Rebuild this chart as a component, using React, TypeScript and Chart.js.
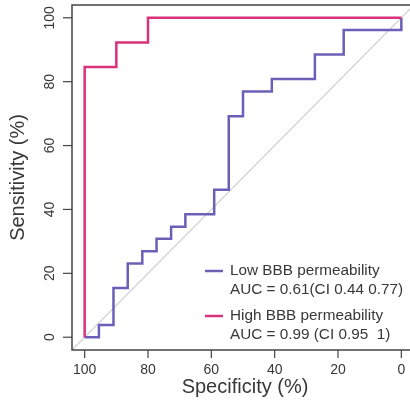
import React, { useEffect, useRef } from 'react';
import { Chart, registerables } from 'chart.js';
Chart.register(...registerables);

// Low BBB permeability ROC (specificity %, sensitivity %)
const lowSpec = [100, 95.5, 90.9, 86.4, 81.8, 77.3, 72.7, 68.2, 59.1, 54.5, 50, 40.9, 27.3, 18.2, 0];
const lowSens = [0, 3.8, 15.4, 23.1, 26.9, 30.8, 34.6, 38.5, 46.2, 69.2, 76.9, 80.8, 88.5, 96.2, 100];
// High BBB permeability ROC
const highSpec = [100, 100, 90, 80, 0];
const highSens = [0, 84.6, 92.3, 100, 100];
// chance diagonal (extends across plot region)
const diagSpec = [110, -10];
const diagSens = [-10, 110];

const xTicks = [100, 80, 60, 40, 20, 0];
const yTicks = [0, 20, 40, 60, 80, 100];
const seriesNames = ['Low BBB permeability', 'High BBB permeability'];
const aucTexts = ['AUC = 0.61(CI 0.44 0.77)', 'AUC = 0.99 (CI 0.95  1)'];
const seriesColors = ['#6a60b8', '#d9317a'];
const xTitle = 'Specificity (%)';
const yTitle = 'Sensitivity (%)';

const FONT = "'Liberation Sans', Arial, Helvetica, sans-serif";

const toPts = (xs: number[], ys: number[]) => xs.map((x, i) => ({ x, y: ys[i] }));

export default function App() {
  const ref = useRef<HTMLCanvasElement | null>(null);
  useEffect(() => {
    document.body.style.margin = '0';
    const canvas = ref.current!;
    const axesPlugin = {
      id: 'rAxes',
      afterDraw(chart: any) {
        const ctx = chart.ctx as CanvasRenderingContext2D;
        const { left, right, top, bottom } = chart.chartArea;
        const xs = chart.scales.x;
        const ys = chart.scales.y;
        ctx.save();
        ctx.strokeStyle = '#444';
        ctx.lineWidth = 1.5;
        ctx.strokeRect(left, top, right - left, bottom - top);
        ctx.fillStyle = '#383838';
        ctx.lineWidth = 1.2;
        // x ticks
        ctx.font = `14px ${FONT}`;
        ctx.textAlign = 'center';
        ctx.textBaseline = 'middle';
        xTicks.forEach((v) => {
          const px = xs.getPixelForValue(v);
          ctx.beginPath();
          ctx.moveTo(px, bottom);
          ctx.lineTo(px, bottom + 8);
          ctx.stroke();
          ctx.fillText(String(v), px, bottom + 20);
        });
        // y ticks
        yTicks.forEach((v) => {
          const py = ys.getPixelForValue(v);
          ctx.beginPath();
          ctx.moveTo(left, py);
          ctx.lineTo(left - 9, py);
          ctx.stroke();
          ctx.save();
          ctx.translate(50, py);
          ctx.rotate(-Math.PI / 2);
          ctx.fillText(String(v), 0, 0);
          ctx.restore();
        });
        // titles
        ctx.font = `20px ${FONT}`;
        ctx.fillText(xTitle, (xs.getPixelForValue(100) + xs.getPixelForValue(0)) / 2 + 2, 387);
        ctx.save();
        ctx.translate(18, (top + bottom) / 2);
        ctx.rotate(-Math.PI / 2);
        ctx.fillText(yTitle, 0, 0);
        ctx.restore();
        // legend
        ctx.font = `15.3px ${FONT}`;
        ctx.textAlign = 'left';
        const rows = [271, 316];
        seriesNames.forEach((name, i) => {
          const y0 = rows[i];
          ctx.strokeStyle = seriesColors[i];
          ctx.lineWidth = 2.5;
          ctx.beginPath();
          ctx.moveTo(205, y0);
          ctx.lineTo(223, y0);
          ctx.stroke();
          ctx.fillStyle = '#383838';
          ctx.fillText(name, 230, y0);
          ctx.fillText(aucTexts[i], 230, y0 + 18.5);
        });
        ctx.restore();
      },
    };
    const chart = new Chart(canvas, {
      type: 'line',
      data: {
        datasets: [
          {
            label: seriesNames[1],
            data: toPts(highSpec, highSens),
            borderColor: seriesColors[1],
            borderWidth: 2.5,
            pointRadius: 0,
            stepped: 'before',
            fill: false,
            order: 1,
          },
          {
            label: seriesNames[0],
            data: toPts(lowSpec, lowSens),
            borderColor: seriesColors[0],
            borderWidth: 2.5,
            pointRadius: 0,
            stepped: 'before',
            fill: false,
            order: 2,
          },
          {
            label: 'diag',
            data: toPts(diagSpec, diagSens),
            borderColor: '#cccccc',
            borderWidth: 1.2,
            pointRadius: 0,
            fill: false,
            clip: 0,
            order: 3,
          },
        ],
      },
      options: {
        animation: false,
        responsive: false,
        devicePixelRatio: 1,
        layout: { padding: { left: 72, top: 5, right: 16, bottom: 50 } },
        plugins: { legend: { display: false }, tooltip: { enabled: false } },
        scales: {
          x: { type: 'linear', min: -4, max: 104, reverse: true, display: false },
          y: { type: 'linear', min: -4, max: 104, display: false },
        },
      },
      plugins: [axesPlugin],
    });
    return () => chart.destroy();
  }, []);
  return (
    <div style={{ width: 410, height: 400, overflow: 'hidden', background: '#fff' }}>
      <canvas ref={ref} width={430} height={400} style={{ width: 430, height: 400, display: 'block' }} />
    </div>
  );
}
